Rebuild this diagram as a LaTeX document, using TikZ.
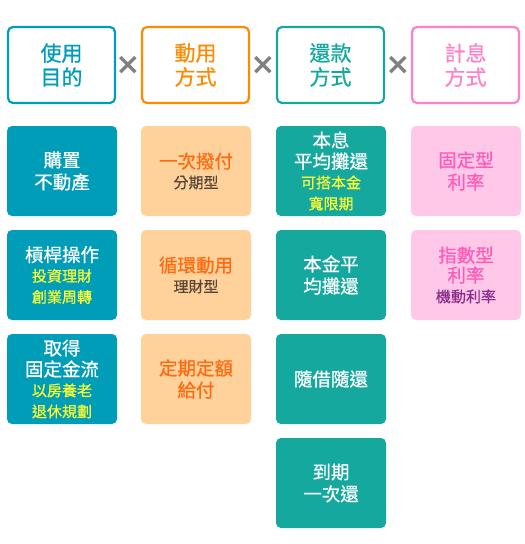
\documentclass[tikz,border=0pt]{standalone}
\usepackage{fontspec}
\setmainfont{Noto Sans CJK TC}[FakeBold=0.6]
\newfontfamily\symfont{DejaVu Sans}
\definecolor{cblue}{HTML}{009DB8}
\definecolor{corange}{HTML}{FF8A00}
\definecolor{cteal}{HTML}{14A89F}
\definecolor{cpink}{HTML}{FF80C8}
\definecolor{forange}{HTML}{FFD19B}
\definecolor{fpink}{HTML}{FFC8E8}
\definecolor{torange}{HTML}{FF6A10}
\definecolor{tpink}{HTML}{FF5AB8}
\definecolor{tyellow}{HTML}{FFFF30}
\definecolor{tbrown}{HTML}{5A4636}
\definecolor{tpurple}{HTML}{8A2C8C}
\definecolor{cgray}{HTML}{808080}
\tikzset{
  x=1pt,y=1pt,
  hbox/.style={draw, line width=2.2pt, fill=white, rounded corners=5pt, minimum width=107pt, minimum height=76pt, align=center, font=\fontsize{21}{24}\selectfont, inner sep=0pt},
  cbox/.style={rounded corners=5pt, minimum width=110pt, minimum height=90pt, align=center, font=\fontsize{18.5}{22}\selectfont, inner sep=0pt},
  bluebox/.style={cbox, fill=cblue, text=white},
  orbox/.style={cbox, fill=forange, text=torange},
  tealbox/.style={cbox, fill=cteal, text=white},
  pkbox/.style={cbox, fill=fpink, text=tpink},
  times/.style={text=cgray, font=\symfont\bfseries\fontsize{30}{30}\selectfont, inner sep=0pt},
}
\newcommand{\subl}[2]{{\fontsize{15}{18}\selectfont\color{#1}#2}}
\begin{document}
\begin{tikzpicture}
\useasboundingbox (0,0) rectangle (525,-544);
% headers
\node[hbox, draw=cblue, text=cblue] (h1) at (61.5,-65) {使用\\目的};
\node[hbox, draw=corange, text=corange] (h2) at (195.5,-65) {動用\\方式};
\node[hbox, draw=cteal, text=cteal] (h3) at (330.5,-65) {還款\\方式};
\node[hbox, draw=cpink, text=cpink] (h4) at (465.5,-65) {計息\\方式};
\node[times] (x1) at (128,-65) {×};
\node[times] (x2) at (263,-65) {×};
\node[times] (x3) at (398,-65) {×};
% column 1
\node[bluebox] (b1) at (62,-171) {購置\\不動產};
\node[bluebox] (b2) at (62,-275) {槓桿操作\\[-2pt]\subl{tyellow}{投資理財}\\[-1pt]\subl{tyellow}{創業周轉}};
\node[bluebox] (b3) at (62,-379) {取得\\[-1pt]固定金流\\[-2pt]\subl{tyellow}{以房養老}\\[-1pt]\subl{tyellow}{退休規劃}};
% column 2
\node[orbox] (o1) at (196,-171) {一次撥付\\[-2pt]\subl{tbrown}{分期型}};
\node[orbox] (o2) at (196,-275) {循環動用\\[-2pt]\subl{tbrown}{理財型}};
\node[orbox] (o3) at (196,-379) {定期定額\\給付};
% column 3
\node[tealbox] (t1) at (331,-171) {本息\\[-1pt]平均攤還\\[-2pt]\subl{tyellow}{可搭本金}\\[-1pt]\subl{tyellow}{寬限期}};
\node[tealbox] (t2) at (331,-275) {本金平\\均攤還};
\node[tealbox] (t3) at (331,-379) {隨借隨還};
\node[tealbox] (t4) at (331,-483) {到期\\一次還};
% column 4
\node[pkbox] (p1) at (466,-171) {固定型\\利率};
\node[pkbox] (p2) at (466,-275) {指數型\\[-2pt]利率\\[-2pt]\subl{tpurple}{機動利率}};
\end{tikzpicture}
\end{document}
